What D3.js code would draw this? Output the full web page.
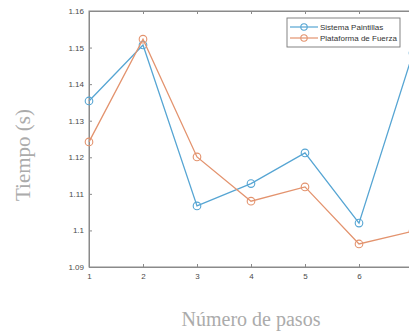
<!DOCTYPE html>
<html><head><meta charset="utf-8">
<script src="https://cdn.jsdelivr.net/npm/d3@7"></script>
<style>body{margin:0;background:#fff}svg{display:block}</style>
</head><body>
<svg id="c" width="409" height="333"></svg>
<script>
const steps = [1, 2, 3, 4, 5, 6, 7];
const sistema = [1.1354, 1.1507, 1.1067, 1.1128, 1.1212, 1.1020, 1.1485];
const plataforma = [1.1242, 1.1523, 1.1201, 1.1080, 1.1119, 1.0963, 1.0998];
const yTicks = [1.09, 1.1, 1.11, 1.12, 1.13, 1.14, 1.15, 1.16];
const seriesNames = ["Sistema Paintillas", "Plataforma de Fuerza"];
const colors = ["#56a5d3", "#e3936e"];

const svg = d3.select("#c");
const L = 89, R = 413, T = 11, B = 267;
const x = d3.scaleLinear().domain([1, 7]).range([L, R]);
const y = d3.scaleLinear().domain([1.09, 1.16]).range([B, T]);
const axisCol = "#8a8a8a", tickTxt = "#4a4a4a";

svg.append("rect").attr("x", L).attr("y", T).attr("width", R - L).attr("height", B - T)
  .attr("fill", "none").attr("stroke", axisCol).attr("stroke-width", 1);

const gx = svg.append("g").attr("transform", `translate(0,${B})`)
  .call(d3.axisBottom(x).tickValues(steps.slice(0, 6)).tickSize(-3).tickPadding(6).tickFormat(d3.format("d")));
const gxt = svg.append("g").attr("transform", `translate(0,${T})`)
  .call(d3.axisTop(x).tickValues(steps.slice(0, 6)).tickSize(-3).tickFormat(""));
const gy = svg.append("g").attr("transform", `translate(${L},0)`)
  .call(d3.axisLeft(y).tickValues(yTicks).tickSize(-3).tickPadding(5).tickFormat(d => d3.format("")(+d.toFixed(2))));
[gx, gxt, gy].forEach(g => {
  g.select(".domain").attr("stroke", axisCol);
  g.selectAll(".tick line").attr("stroke", axisCol);
  g.selectAll("text").attr("fill", tickTxt).attr("font-family", "Liberation Sans, Arial, sans-serif").attr("font-size", 8);
});

const line = d3.line().x((d, i) => x(steps[i])).y(d => y(d));
[sistema, plataforma].forEach((s, k) => {
  svg.append("path").datum(s).attr("d", line).attr("fill", "none")
    .attr("stroke", colors[k]).attr("stroke-width", 1.3);
  svg.selectAll(null).data(s).enter().append("circle")
    .attr("cx", (d, i) => x(steps[i])).attr("cy", d => y(d)).attr("r", 3.8)
    .attr("fill", "none").attr("stroke", colors[k]).attr("stroke-width", 1.1);
});

// legend
const lg = svg.append("g");
lg.append("rect").attr("x", 287).attr("y", 18).attr("width", 113).attr("height", 29)
  .attr("fill", "#fff").attr("stroke", "#777").attr("stroke-width", 0.9);
seriesNames.forEach((n, k) => {
  const yy = 27 + k * 11;
  lg.append("line").attr("x1", 290).attr("x2", 318).attr("y1", yy).attr("y2", yy)
    .attr("stroke", colors[k]).attr("stroke-width", 1.2);
  lg.append("circle").attr("cx", 304).attr("cy", yy).attr("r", 3.2)
    .attr("fill", "none").attr("stroke", colors[k]).attr("stroke-width", 1.1);
  lg.append("text").attr("x", 320).attr("y", yy + 3).text(n)
    .attr("font-family", "Liberation Sans, Arial, sans-serif").attr("font-size", 8).attr("fill", "#333");
});

svg.append("text").attr("x", (L + R) / 2).attr("y", 326).attr("text-anchor", "middle")
  .attr("font-family", "Liberation Serif, Times New Roman, serif").attr("font-size", 20)
  .attr("fill", "#ababab").text("Número de pasos");
svg.append("text").attr("transform", "translate(30,155) rotate(-90)").attr("text-anchor", "middle")
  .attr("font-family", "Liberation Serif, Times New Roman, serif").attr("font-size", 21)
  .attr("fill", "#ababab").text("Tiempo (s)");
</script>
</body></html>
